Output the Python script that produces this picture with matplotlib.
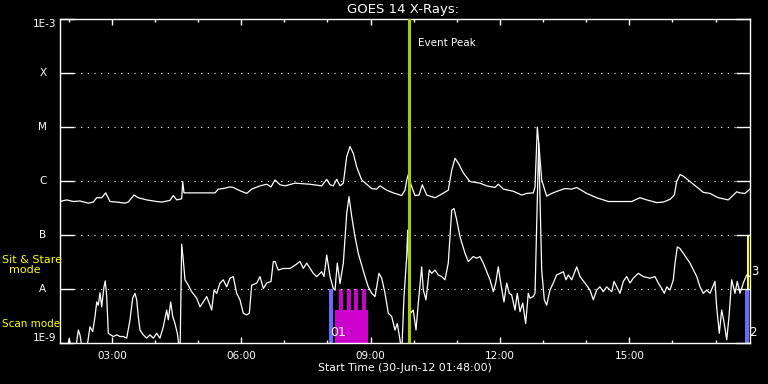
import matplotlib
matplotlib.use("Agg")
import matplotlib.pyplot as plt
import numpy as np

# time in minutes after the start (01:48), flux as log10(W/m^2)
long_min = [0, 9.3, 18.5, 27.8, 39.4, 46.3, 51.1, 58.0, 63.6, 69.6,
            78.9, 90.4, 95.0, 103.0, 108.9, 120.6, 134.5, 141.5, 153.0, 157.6,
            162.4, 169.3, 170.7, 172.5, 194.8, 215.7, 220.2, 227.2, 236.5, 241.1,
            250.4, 259.8, 266.7, 278.3, 287.6, 293.6, 299.1, 306.1, 313.0, 327.0,
            347.8, 364.1, 371.1, 375.7, 380.2, 385.0, 389.6, 394.2, 398.9, 403.5,
            408.1, 412.8, 419.7, 426.7, 433.7, 440.6, 445.2, 454.5, 463.7, 475.4,
            480.0, 482.4, 484.6, 488.4, 493.9, 499.5, 504.1, 510.2, 521.7, 528.7,
            540.2, 545.0, 549.6, 554.2, 561.1, 570.4, 584.3, 593.7, 605.2, 609.8,
            616.8, 630.7, 642.4, 649.3, 658.5, 660.9, 664.1, 666.9, 670.2, 677.1,
            684.1, 695.7, 702.6, 711.9, 718.9, 732.8, 746.7, 762.8, 779.1, 795.4,
            806.9, 816.3, 830.2, 839.4, 848.7, 854.7, 858.0, 862.6, 867.2, 876.5,
            885.9, 895.0, 904.3, 915.9, 929.8, 934.5, 941.5, 946.1, 953.0, 960.0]
long_log = [-6.38, -6.35, -6.38, -6.37, -6.41, -6.39, -6.31, -6.31, -6.22, -6.38,
            -6.39, -6.41, -6.39, -6.26, -6.31, -6.35, -6.38, -6.39, -6.36, -6.27,
            -6.35, -6.33, -6.01, -6.22, -6.22, -6.22, -6.15, -6.14, -6.11, -6.12,
            -6.18, -6.23, -6.15, -6.09, -6.06, -6.11, -5.98, -6.07, -6.09, -6.04,
            -6.06, -6.09, -5.97, -6.07, -6.09, -5.97, -6.09, -6.04, -5.55, -5.36,
            -5.49, -5.74, -5.98, -6.06, -6.14, -6.15, -6.09, -6.17, -6.22, -6.27,
            -6.17, -5.98, -5.88, -6.07, -6.27, -6.26, -6.07, -6.26, -6.31, -6.26,
            -6.17, -5.80, -5.58, -5.67, -5.85, -6.01, -6.04, -6.09, -6.12, -6.06,
            -6.15, -6.19, -6.26, -6.23, -6.22, -6.11, -5.00, -5.43, -5.98, -6.28,
            -6.23, -6.17, -6.14, -6.15, -6.12, -6.23, -6.31, -6.38, -6.38, -6.38,
            -6.31, -6.35, -6.40, -6.39, -6.34, -6.26, -6.01, -5.88, -5.91, -6.01,
            -6.11, -6.21, -6.23, -6.31, -6.35, -6.29, -6.20, -6.22, -6.23, -6.15]

short_min = [0, 8.3, 12.9, 16.7, 20.9, 25.5, 27.8, 32.0, 36.2, 41.7,
             45.5, 48.7, 51.1, 53.3, 55.7, 58.0, 61.2, 63.0, 65.0, 67.2,
             70.5, 74.2, 78.9, 83.5, 88.1, 92.8, 97.4, 101.1, 104.3, 106.7,
             108.9, 111.3, 115.9, 120.6, 125.2, 129.8, 134.5, 139.1, 143.7, 148.4,
             150.7, 154.0, 156.8, 160.0, 163.2, 167.0, 169.3, 171.5, 173.9, 178.5,
             183.2, 190.2, 194.8, 199.4, 204.1, 208.7, 211.1, 214.3, 218.0, 222.6,
             227.2, 231.9, 236.5, 241.1, 245.8, 250.4, 255.0, 259.8, 263.4, 266.7,
             273.7, 278.3, 282.9, 287.6, 293.6, 296.8, 299.1, 303.7, 310.7, 320.0,
             327.0, 333.9, 338.5, 343.2, 352.4, 357.1, 364.1, 367.3, 371.1, 375.7,
             380.2, 382.6, 385.8, 389.6, 394.2, 398.9, 402.1, 405.9, 410.4, 415.0,
             419.7, 424.3, 428.9, 433.7, 438.3, 443.8, 447.6, 452.2, 456.8, 461.5,
             466.1, 469.3, 473.0, 475.4, 478.6, 482.4, 483.7, 485.6, 487.9, 491.5,
             495.3, 498.5, 503.2, 505.5, 509.2, 513.8, 517.1, 521.7, 526.3, 531.0,
             535.6, 540.2, 545.0, 548.2, 551.9, 556.5, 563.5, 568.1, 575.0, 579.7,
             584.3, 588.9, 593.7, 598.3, 602.9, 606.2, 609.8, 613.2, 617.7, 621.5,
             625.1, 628.4, 633.0, 636.2, 640.0, 643.8, 647.9, 651.5, 653.9, 658.5,
             660.9, 666.0, 670.2, 673.8, 677.1, 681.7, 686.3, 691.0, 695.7, 700.3,
             704.0, 707.2, 711.9, 718.9, 723.5, 730.4, 737.4, 742.0, 746.7, 751.3,
             755.9, 760.6, 767.6, 770.8, 779.1, 783.7, 788.4, 793.0, 797.6, 804.6,
             811.5, 820.9, 827.8, 832.4, 837.2, 840.8, 844.2, 848.7, 853.3, 855.7,
             858.9, 862.6, 867.2, 876.5, 885.9, 890.4, 895.0, 899.7, 904.3, 911.3,
             913.6, 917.3, 920.6, 924.2, 927.6, 930.8, 934.5, 939.1, 942.3, 946.1,
             950.7, 955.4, 960.0]
short_log = [-9.2, -9.2, -8.91, -9.2, -9.2, -8.76, -8.85, -9.2, -9.2, -8.70,
             -8.79, -8.51, -8.24, -8.30, -8.07, -8.33, -7.96, -7.85, -8.14, -8.82,
             -8.85, -8.88, -8.85, -8.88, -8.88, -8.91, -8.57, -8.17, -8.08, -8.20,
             -8.51, -8.76, -8.85, -8.91, -8.85, -8.91, -8.82, -8.91, -8.70, -8.39,
             -8.57, -8.24, -8.51, -8.64, -8.82, -9.2, -7.17, -7.46, -7.83, -7.93,
             -8.05, -8.17, -8.33, -8.24, -8.14, -8.30, -8.39, -8.02, -8.08, -7.89,
             -7.83, -7.96, -7.80, -7.77, -8.08, -8.20, -8.45, -8.48, -8.45, -7.93,
             -7.89, -7.77, -7.99, -7.89, -7.86, -7.49, -7.49, -7.65, -7.62, -7.62,
             -7.56, -7.49, -7.62, -7.52, -7.71, -7.77, -7.68, -7.77, -7.37, -7.77,
             -7.99, -8.02, -7.52, -7.90, -7.52, -6.60, -6.29, -6.66, -7.03, -7.34,
             -7.56, -7.77, -7.96, -8.08, -8.14, -7.71, -7.80, -8.08, -8.45, -8.51,
             -8.76, -8.64, -8.94, -9.2, -8.14, -7.40, -6.91, -7.77, -8.45, -8.39,
             -8.76, -8.26, -7.59, -8.02, -8.20, -7.65, -7.71, -7.65, -7.74, -7.77,
             -7.83, -7.52, -6.54, -6.51, -6.72, -7.03, -7.34, -7.49, -7.40, -7.43,
             -7.40, -7.52, -7.68, -7.83, -8.05, -7.89, -7.59, -7.89, -8.24, -7.89,
             -8.08, -8.11, -8.39, -8.08, -8.42, -8.26, -8.64, -8.08, -8.17, -8.14,
             -8.08, -5.30, -7.65, -8.20, -8.30, -8.02, -7.89, -7.74, -7.71, -7.68,
             -7.83, -7.74, -7.83, -7.59, -7.77, -7.89, -8.02, -8.20, -8.02, -7.96,
             -8.05, -7.96, -8.05, -7.86, -8.08, -7.86, -7.77, -7.89, -7.80, -7.71,
             -7.77, -7.80, -7.77, -7.89, -7.99, -8.08, -7.96, -8.02, -7.83, -7.52,
             -7.22, -7.25, -7.34, -7.52, -7.77, -7.96, -8.08, -8.02, -8.08, -7.86,
             -8.33, -8.82, -8.39, -8.64, -8.94, -8.51, -7.83, -8.08, -7.86, -8.08,
             -7.89, -7.74, -7.77]

# class levels for the y axis
levels = [1e-9, 1e-8, 1e-7, 1e-6, 1e-5, 1e-4, 1e-3]
level_names = ["1E-9", "A", "B", "C", "M", "X", "1E-3"]

# hour of day
start_hour = 1.8
end_hour = 17.8
hour_ticks = [3, 6, 9, 12, 15]
hour_labels = ["03:00", "06:00", "09:00", "12:00", "15:00"]
event_peak = 9.893

# instrument mode bars (start hour, end hour, bottom flux, top flux)
scan_bars = [(8.038, 8.137, 1e-9, 1e-8), (17.683, 17.777, 1e-9, 1e-8)]
stare_bars = [(8.177, 8.942, 1e-9, 10**-8.39),
              (8.270, 8.362, 1e-9, 1e-8), (8.455, 8.548, 1e-9, 1e-8),
              (8.617, 8.710, 1e-9, 1e-8), (8.803, 8.895, 1e-9, 1e-8)]
yellow_bars = [(17.730, 17.777, 1e-8, 1e-7)]

long_t = start_hour + np.array(long_min) / 60
short_t = start_hour + np.array(short_min) / 60

fig = plt.figure(figsize=(7.68, 3.84), dpi=100, facecolor="black")
ax = fig.add_axes([60/768, 41/384, 690/768, 324/384])
ax.set_facecolor("black")

for bars, col in [(scan_bars, "#6a6aff"), (stare_bars, "#cc00cc"), (yellow_bars, "#ffff00")]:
    for x0, x1, b, t in bars:
        ax.bar(x0, t - b, bottom=b, width=x1 - x0, align="edge", color=col, lw=0, zorder=1)

ax.plot(long_t, 10**np.array(long_log), color="white", lw=0.9, zorder=3)
ax.plot(short_t, 10**np.array(short_log), color="white", lw=0.9, zorder=3)

ax.axvline(event_peak, color="#a0d000", lw=2.2, zorder=4)
ax.text(event_peak + 0.21, 0.926, "Event Peak", transform=ax.get_xaxis_transform(),
        color="white", fontsize=7.5, va="center", ha="left")

ax.set_yscale("log")
ax.set_ylim(1e-9, 1e-3)
ax.set_xlim(start_hour, end_hour)

ax.set_yticks(levels)
ax.yaxis.set_minor_locator(matplotlib.ticker.NullLocator())
ax.tick_params(axis="y", which="major", direction="in", length=10, width=1,
               color="white", left=True, right=True, labelleft=False)

ax.set_xticks(hour_ticks, labels=hour_labels)
ax.set_xticks(np.arange(2, 18), minor=True)
ax.tick_params(axis="x", which="major", direction="in", length=4.5, width=1,
               colors="white", top=True, bottom=True, labelsize=7.5, pad=6)
ax.tick_params(axis="x", which="minor", direction="in", length=2.5, width=1,
               colors="white", top=True, bottom=True)

for sp in ax.spines.values():
    sp.set_color("white")
    sp.set_linewidth(1)

# dotted class lines
for lev in levels[1:-1]:
    ax.plot([14/690, 676/690], [lev, lev], transform=ax.get_yaxis_transform(),
            ls=(0, (1, 5)), color="white", lw=0.8, zorder=2)

# y labels
for lev, name in zip(levels, level_names):
    if name.startswith("1E"):
        va = "top" if lev == 1e-3 else "bottom"
        ax.text(-0.005, lev, name, transform=ax.get_yaxis_transform(), color="white",
                fontsize=7.5, ha="right", va=va)
    else:
        ax.text(-0.025, lev, name, transform=ax.get_yaxis_transform(), color="white",
                fontsize=7.5, ha="center", va="center")

ax.text(8.06, 10**-8.80, "01", color="white", fontsize=9, ha="left", va="center", zorder=5)
ax.text(17.83, 10**-7.685, "3", color="white", fontsize=8.5, ha="left", va="center", clip_on=False)
ax.text(17.79, 10**-8.80, "2", color="white", fontsize=8.5, ha="left", va="center", clip_on=False)

fig.text(403/768, 1 - 9/384, "GOES 14 X-Rays:", ha="center", va="center", color="white", fontsize=9.5)
fig.text(405/768, 1 - 368/384, "Start Time (30-Jun-12 01:48:00)", ha="center", va="center",
         color="white", fontsize=7.8)
fig.text(2/768, 1 - 265/384, "Sit & Stare\n  mode", ha="left", va="center", color="#ffff00",
         fontsize=8, linespacing=1.0)
fig.text(2/768, 1 - 324/384, "Scan mode", ha="left", va="center", color="#ffff00", fontsize=7.5)

fig.savefig("out.png", dpi=100, facecolor="black")
